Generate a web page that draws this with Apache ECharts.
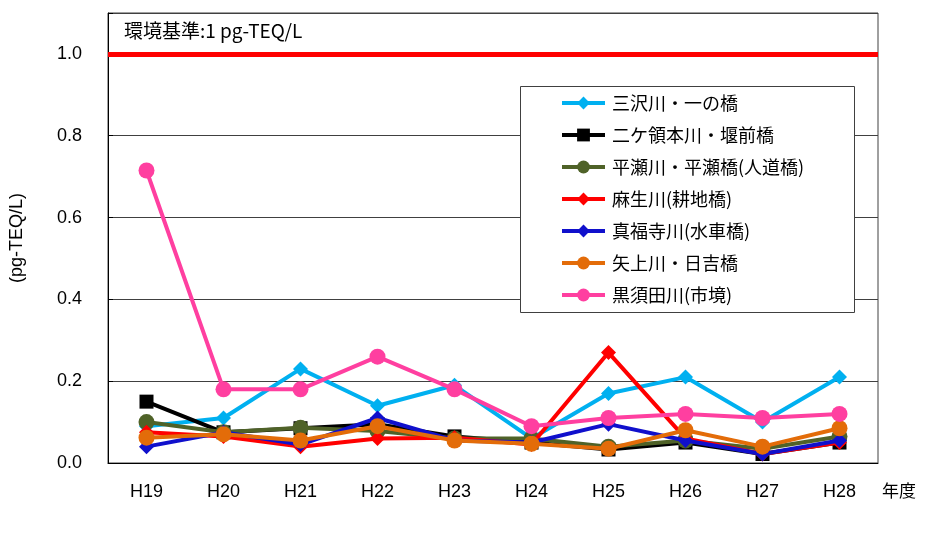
<!DOCTYPE html>
<html>
<head>
<meta charset="utf-8">
<script src="https://cdn.jsdelivr.net/npm/echarts@6/dist/echarts.min.js"></script>
<style>html,body{margin:0;padding:0;background:#fff;}#c{width:939px;height:533px;}</style>
</head>
<body>
<div id="c"></div>
<script>
const categories = ['H19','H20','H21','H22','H23','H24','H25','H26','H27','H28'];
const yTicks = [0, 0.2, 0.4, 0.6, 0.8, 1.0];
const standardValue = 1.0;

const misawa   = [0.09, 0.11, 0.23, 0.14, 0.19, 0.06, 0.17, 0.21, 0.10, 0.21];
const nikaryo  = [0.15, 0.075, 0.085, 0.095, 0.065, 0.05, 0.033, 0.05, 0.022, 0.05];
const hirase   = [0.10, 0.075, 0.086, 0.078, 0.06, 0.06, 0.04, 0.055, 0.035, 0.065];
const asao     = [0.075, 0.065, 0.04, 0.06, 0.062, 0.045, 0.27, 0.06, 0.022, 0.05];
const shinpuku = [0.04, 0.075, 0.045, 0.11, 0.055, 0.05, 0.095, 0.055, 0.022, 0.055];
const yagami   = [0.062, 0.07, 0.055, 0.09, 0.055, 0.047, 0.035, 0.08, 0.04, 0.085];
const kurosuda = [0.715, 0.18, 0.18, 0.26, 0.18, 0.09, 0.11, 0.12, 0.11, 0.12];

const seriesNames = ['三沢川・一の橋','二ケ領本川・堰前橋','平瀬川・平瀬橋(人道橋)','麻生川(耕地橋)','真福寺川(水車橋)','矢上川・日吉橋','黒須田川(市境)'];
const seriesData = [misawa, nikaryo, hirase, asao, shinpuku, yagami, kurosuda];
const colors = ['#00B0F0','#000000','#4F6228','#FF0000','#1010CC','#E36C09','#FF3FA0'];
const symbols = ['diamond','rect','circle','diamond','diamond','circle','circle'];
const sizes = [15, 14, 16, 15, 15, 16, 16];

const cjk = '"Noto Sans CJK JP", sans-serif';
const lat = '"Liberation Sans", Arial, sans-serif';

const series = seriesData.map((d, i) => ({
  name: seriesNames[i],
  type: 'line',
  data: d,
  symbol: symbols[i],
  symbolSize: sizes[i],
  itemStyle: { color: colors[i] },
  lineStyle: { color: colors[i], width: 4 },
  z: 3 + i,
  animation: false
}));
series[0].markLine = {
  silent: true,
  symbol: ['none','none'],
  label: { show: false },
  lineStyle: { color: '#FF0000', width: 5, type: 'solid' },
  data: [{ yAxis: standardValue }],
  animation: false
};

const chart = echarts.init(document.getElementById('c'));
chart.setOption({
  animation: false,
  backgroundColor: '#fff',
  grid: { left: 107, right: 61, top: 13, bottom: 70, show: true, borderColor: '#404040', borderWidth: 1, backgroundColor: 'transparent' },
  xAxis: {
    type: 'category',
    data: categories,
    boundaryGap: true,
    axisLine: { lineStyle: { color: '#000', width: 1 } },
    axisTick: { inside: true, length: 7, lineStyle: { color: '#000' } },
    axisLabel: { color: '#000', fontFamily: lat, fontSize: 18, margin: 20 }
  },
  yAxis: {
    type: 'value',
    min: 0, max: 1.1, interval: 0.2,
    name: '(pg-TEQ/L)',
    nameLocation: 'middle',
    nameGap: 82,
    nameRotate: 90,
    nameTextStyle: { color: '#000', fontFamily: lat, fontSize: 18 },
    axisLine: { show: true, lineStyle: { color: '#000' } },
    axisTick: { show: true, inside: true, length: 5, lineStyle: { color: '#000' } },
    splitLine: { show: true, lineStyle: { color: '#404040', width: 1 } },
    axisLabel: {
      color: '#000', fontFamily: lat, fontSize: 18, margin: 26,
      formatter: v => (yTicks.some(t => Math.abs(t - v) < 1e-6) ? v.toFixed(1) : '')
    }
  },
  legend: {
    orient: 'vertical',
    left: 560,
    top: 94,
    padding: 0,
    z: 100,
    itemWidth: 43,
    itemHeight: 16,
    itemGap: 14,
    lineStyle: { width: 4 },
    textStyle: { color: '#000', fontFamily: cjk, fontSize: 18, lineHeight: 18, padding: [0,0,0,2] },
    data: seriesNames
  },
  graphic: [
    { type: 'rect', left: 520, top: 86, z: 20, shape: { width: 334, height: 226 }, style: { fill: '#fff', stroke: '#404040', lineWidth: 1 } },
    { type: 'text', left: 124, top: 21, z: 60, style: { text: '環境基準:1 pg-TEQ/L', font: '19px ' + cjk, fill: '#000' } },
    { type: 'text', left: 882, top: 482, z: 60, style: { text: '年度', font: '17px ' + cjk, fill: '#000' } }
  ],
  series: series
});
</script>
</body>
</html>
